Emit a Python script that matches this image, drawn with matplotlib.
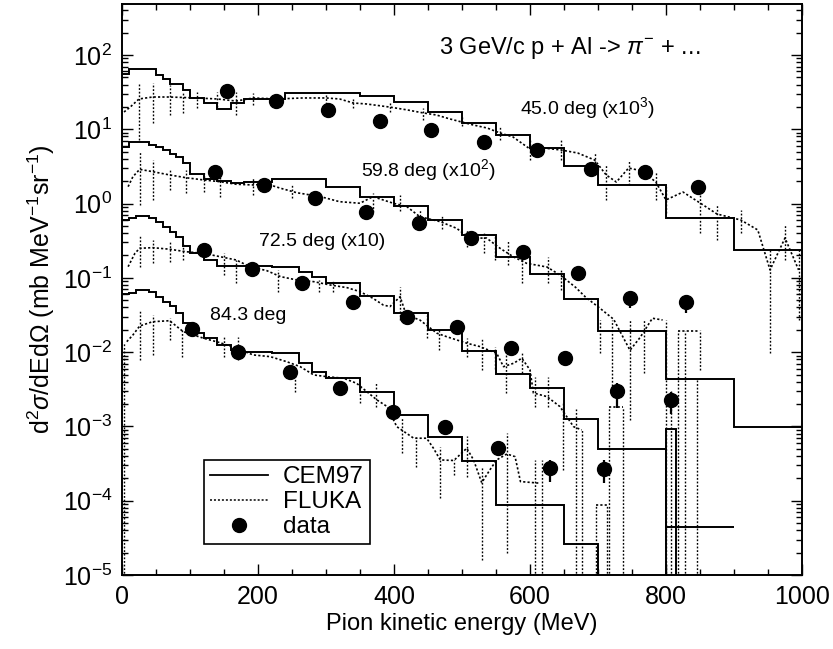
import numpy as np
import matplotlib
matplotlib.use("Agg")
import matplotlib.pyplot as plt
from matplotlib.lines import Line2D
from matplotlib.ticker import MultipleLocator, FixedLocator, LogFormatterMathtext, NullFormatter

plt.rcParams['font.family'] = ['Liberation Sans', 'DejaVu Sans']
plt.rcParams['mathtext.fontset'] = 'custom'
plt.rcParams['mathtext.rm'] = 'Liberation Sans'
plt.rcParams['mathtext.it'] = 'Liberation Sans:italic'
plt.rcParams['mathtext.bf'] = 'Liberation Sans:bold'

# ---------------- CEM97 histograms ----------------
edges = [0, 10, 20, 30, 40, 50, 60, 70, 80, 90, 100, 120, 140, 160, 180, 200, 220, 240,
         260, 280, 300, 350, 400, 450, 500, 550, 600, 650, 700, 800, 900, 1000]
cem1 = [55.5, 64.8, 64.8, 64.8, 64.8, 53.8, 47.5, 40.7, 40.7, 33.8, 26.4, 22.6, 18.8, 22.6,
        25.6, 25.6, 25.6, 30.8, 30.8, 30.8, 30.8, 28.1, 23.3, 17.1, 12.2, 8.38, 5.60, 3.21,
        1.78, 0.640, 0.237]
cem2 = [5.78, 6.75, 6.75, 6.75, 6.15, 5.78, 5.27, 4.65, 4.24, 3.52, 2.50, 2.14, 2.01, 1.89,
        1.95, 1.95, 2.14, 2.14, 2.14, 2.14, 1.69, 1.24, 0.914, 0.601, 0.378, 0.193, 0.113,
        0.052, 0.0195, 0.00436, 0.000985]
edges3 = edges[:-1]
cem3 = [0.601, 0.640, 0.687, 0.687, 0.640, 0.571, 0.489, 0.419, 0.358, 0.269, 0.218, 0.174,
        0.1445, 0.1445, 0.1445, 0.1445, 0.1415, 0.1415, 0.121, 0.104, 0.0861, 0.0571, 0.0340,
        0.0199, 0.0105, 0.00509, 0.00330, 0.00126, 0.000498, 4.44e-5]
edges4 = edges[:-3] + [800, 815, 900]
cem4 = [0.0607, 0.0632, 0.0687, 0.0687, 0.0652, 0.0558, 0.0478, 0.0419, 0.0337, 0.0247,
        0.0181, 0.0155, 0.0125, 0.0107, 0.0102, 0.0102, 0.00976, 0.00976, 0.00715, 0.00546,
        0.00445, 0.00294, 0.00143, 0.000729, 0.000347, 8.78e-5, 8.78e-5, 2.62e-5, 1e-8,
        0.000925, 1e-8]

# ---------------- FLUKA ----------------
fl1_e = [3, 12, 25, 45, 70, 90, 110, 140, 168, 193, 227, 266, 300, 320, 340, 360, 394, 420,
         443, 462, 482, 500, 517, 537, 556, 575, 600, 620, 645, 670, 695, 712, 727, 745, 765,
         785, 800, 825, 850, 875, 910, 935, 953, 975, 995]
fl1_v = [17.1, 19.9, 25.6, 27.2, 27.2, 26.8, 26.4, 25.6, 24.0, 26.4, 25.6, 26.4, 26.4, 25.6,
         22.6, 21.9, 19.9, 18.2, 16.6, 15.6, 13.8, 12.5, 11.4, 10.4, 8.92, 7.88, 5.43, 5.60,
         5.27, 4.80, 3.86, 2.43, 1.95, 3.01, 2.75, 1.95, 1.12, 1.43, 1.02, 0.724, 0.601, 0.441,
         0.128, 0.344, 0.128]
fl1_err_e = [25, 45, 70, 90, 110, 140, 168, 193, 227, 300, 340, 394, 443, 500, 556, 600, 645,
             695, 712, 745, 785, 800, 850, 875, 910, 953, 975, 995]
fl1_err_lo = [7.18, 12.2, 15.6, 16.6, 19.4, 19.9, 15.6, 21.2, 21.9, 21.9, 19.4, 17.1, 13.3,
              11.1, 7.18, 3.86, 3.86, 2.83, 1.12, 1.78, 1.12, 0.747, 0.402, 0.324, 0.402,
              0.00976, 0.174, 0.0271]
fl1_err_hi = [42.0, 42.0, 39.4, 30.8, 31.8, 31.8, 31.8, 30.8, 28.9, 29.9, 26.4, 23.3, 19.4,
              15.1, 11.1, 7.18, 7.18, 4.95, 3.31, 3.86, 2.66, 1.67, 1.31, 0.957, 0.82, 0.237,
              0.515, 0.237]

fl2_e = [9, 16, 26, 45, 70, 94, 120, 144, 168, 193, 213, 233, 257, 292, 320, 350, 369, 399,
         419, 438, 468, 492, 512, 536, 556, 576, 595, 625, 645, 667, 682, 703, 723, 747, 762,
         780, 795]
fl2_v = [1.69, 2.30, 2.89, 2.69, 2.43, 2.23, 2.08, 1.97, 1.82, 1.78, 1.84, 1.61, 1.40, 1.24,
         1.06, 1.01, 1.24, 1.01, 0.908, 0.666, 0.571, 0.465, 0.341, 0.344, 0.250, 0.191,
         0.157, 0.140, 0.108, 0.0746, 0.0547, 0.0389, 0.0277, 0.0106, 0.0158, 0.0286, 0.0271]
fl2b_e = [818, 848]
fl2b_v = [0.0195, 0.0195]
fl2_err_e = [26, 45, 70, 94, 120, 144, 193, 250, 369, 409, 438, 470, 507, 532, 548, 567, 588,
             627, 645, 703, 720, 747, 767, 800, 818, 828, 850]
fl2_err_lo = [0.957, 1.12, 1.52, 1.39, 1.43, 1.23, 1.31, 1.19, 0.771, 0.80, 0.484, 0.455,
              0.26, 0.216, 0.174, 0.149, 0.0854, 0.0854, 0.0687, 0.00976, 0.00282, 0.00122,
              0.00525, 1e-6, 1e-6, 1e-6, 0.00576]
fl2_err_hi = [4.95, 3.86, 2.83, 2.83, 2.58, 2.43, 2.21, 1.84, 1.39, 1.30, 0.82, 0.703, 0.441,
              0.418, 0.378, 0.324, 0.277, 0.191, 0.128, 0.0271, 0.0271, 0.0271, 0.0271,
              0.0271, 0.0195, 0.0195, 0.0199]

fl3_e = [9, 19, 26, 45, 70, 94, 120, 144, 168, 188, 213, 233, 257, 282, 306, 331, 350, 369,
         384, 394, 409, 418, 438, 463, 477, 507, 526, 551, 561, 576, 588, 600, 605, 625, 644,
         664, 676]
fl3_v = [0.1415, 0.214, 0.250, 0.255, 0.243, 0.225, 0.214, 0.193, 0.174, 0.1415, 0.125, 0.104,
         0.0937, 0.0889, 0.0802, 0.0738, 0.0652, 0.0531, 0.0432, 0.0410, 0.0558, 0.0317,
         0.0271, 0.0180, 0.0162, 0.0132, 0.0119, 0.00966, 0.00638, 0.00709, 0.00828, 0.00576,
         0.00282, 0.00252, 0.00185, 0.000994, 0.000897]
fl3b_e = [716, 737]
fl3b_v = [0.00183, 0.00183]
fl3_err_e = [26, 45, 70, 90, 150, 168, 230, 290, 310, 409, 448, 466, 507, 529, 548, 565, 588,
             607, 627, 648, 667, 677, 716, 737, 808, 845]
fl3_err_lo = [0.141, 0.157, 0.164, 0.174, 0.109, 0.0854, 0.0646, 0.0646, 0.0646, 0.0271,
              0.0155, 0.0107, 0.0087, 0.00576, 0.006, 0.00282, 0.0053, 0.00183, 0.00183,
              0.00026, 1e-6, 1e-6, 1e-6, 1e-6, 1e-6, 1e-6]
fl3_err_hi = [0.378, 0.324, 0.304, 0.286, 0.216, 0.174, 0.128, 0.0937, 0.09, 0.0754, 0.032,
              0.0199, 0.0155, 0.0155, 0.0117, 0.0117, 0.0098, 0.00464, 0.00464, 0.00207,
              0.00174, 0.000897, 0.00183, 0.00185, 0.003, 0.0042]

fl4_e = [7, 16, 26, 45, 70, 90, 120, 144, 168, 193, 218, 242, 262, 282, 301, 326, 345, 375,
         390, 404, 429, 448, 458, 468, 488, 507, 517, 529, 541, 551, 566, 578, 586, 615]
fl4_v = [0.01384, 0.0170, 0.0225, 0.0257, 0.0265, 0.0189, 0.01538, 0.01342, 0.01128, 0.00917,
         0.0087, 0.00745, 0.00638, 0.00493, 0.00468, 0.00445, 0.00381, 0.00227, 0.00185,
         0.000994, 0.000694, 0.000694, 0.000509, 0.000354, 0.000348, 0.000509, 0.000354,
         0.000175, 0.00026, 0.000354, 0.000426, 0.000392, 0.000181, 0.000172]
fl4b_e = [697, 713]
fl4b_v = [8.77e-5, 8.77e-5]
fl4_err_e = [3, 26, 45, 70, 88, 150, 170, 254, 350, 373, 412, 432, 468, 488, 507, 529, 566,
             607, 618, 697, 713]
fl4_err_lo = [1e-6, 0.00785, 0.00917, 0.0146, 0.0086, 0.0086, 0.0079, 0.00291, 0.00207,
              0.00183, 0.00044, 0.000285, 0.000109, 0.000222, 0.000209, 1.6e-5, 2.0e-5, 1e-6,
              1e-6, 1e-6, 1e-6]
fl4_err_hi = [0.0138, 0.037, 0.0317, 0.0289, 0.0199, 0.0159, 0.0159, 0.00576, 0.0034,
              0.00397, 0.00134, 0.000722, 0.00053, 0.00035, 0.00075, 0.000285, 0.000818,
              0.000354, 0.000354, 8.77e-5, 8.77e-5]

# ---------------- data ----------------
d1_e = [154, 227, 303, 379, 455, 532, 610, 690, 769, 847]
d1_v = [33, 24.3, 18.2, 13.1, 9.77, 6.8, 5.25, 2.89, 2.69, 1.69]
d2_e = [137, 209, 284, 359, 437, 513, 590, 670, 747, 829]
d2_v = [2.69, 1.78, 1.18, 0.778, 0.543, 0.341, 0.2255, 0.1175, 0.0531, 0.0469]
d3_e = [121, 191, 264, 340, 419, 493, 572, 652, 728, 808]
d3_v = [0.237, 0.1306, 0.0846, 0.0478, 0.0301, 0.0216, 0.01128, 0.00827, 0.00303, 0.00228]
d4_e = [103, 171, 247, 321, 398, 475, 553, 630, 709]
d4_v = [0.0203, 0.01016, 0.00546, 0.00327, 0.00158, 0.000975, 0.000508, 0.000273, 0.000265]
de_e = [747, 829, 728, 808, 630, 709]
de_lo = [0.0398, 0.0334, 0.00177, 0.00147, 0.000179, 0.000174]
de_hi = [0.0632, 0.0558, 0.00385, 0.00291, 0.000354, 0.000354]

labels = ["45.0 deg (x10$^3$)", "59.8 deg (x10$^2$)", "72.5 deg (x10)", "84.3 deg"]
label_pos = [(684, 19.4), (451, 2.83), (294, 0.304), (185, 0.0307)]
title_text = r"3 GeV/c p + Al -> $\pi^{-}$ + ..."
title_pos = (659, 124)
y_major = [1e-5, 1e-4, 1e-3, 1e-2, 1e-1, 1e0, 1e1, 1e2]

fig = plt.figure(figsize=(8.33, 6.49), dpi=100)
ax = fig.add_axes([122/833, 74/649, 680/833, 571/649])
ax.set_yscale('log')
ax.set_xlim(0, 1000)
ax.set_ylim(1e-5, 486)

dot = (0, (1.3, 1.3))
for e, v in [(edges, cem1), (edges, cem2), (edges3, cem3), (edges4, cem4)]:
    ax.stairs(v, e, baseline=None, color='black', lw=1.4)

for fe, fv, ee, lo, hi in [(fl1_e, fl1_v, fl1_err_e, fl1_err_lo, fl1_err_hi),
                           (fl2_e, fl2_v, fl2_err_e, fl2_err_lo, fl2_err_hi),
                           (fl3_e, fl3_v, fl3_err_e, fl3_err_lo, fl3_err_hi),
                           (fl4_e, fl4_v, fl4_err_e, fl4_err_lo, fl4_err_hi)]:
    ax.plot(fe, fv, color='black', lw=1.2, ls=dot)
    ax.vlines(ee, lo, hi, color='black', lw=1.0, linestyles=[dot])
for be, bv in [(fl2b_e, fl2b_v), (fl3b_e, fl3b_v), (fl4b_e, fl4b_v)]:
    ax.plot(be, bv, color='black', lw=1.2, ls=dot)

ax.vlines(de_e, de_lo, de_hi, color='black', lw=1.6)
for de, dv in [(d1_e, d1_v), (d2_e, d2_v), (d3_e, d3_v), (d4_e, d4_v)]:
    ax.plot(de, dv, 'o', color='black', ms=10, ls='none')

for (lx, ly), t in zip(label_pos, labels):
    ax.text(lx, ly, t, fontsize=14, ha='center', va='center')
ax.text(title_pos[0], title_pos[1], title_text, fontsize=17, ha='center', va='center')

ax.xaxis.set_major_locator(MultipleLocator(200))
ax.xaxis.set_minor_locator(MultipleLocator(50))
ax.yaxis.set_major_locator(FixedLocator(y_major))
y_minor = [m * d for d in y_major for m in range(2, 10) if m * d < 486]
ax.yaxis.set_minor_locator(FixedLocator(y_minor))
ax.yaxis.set_major_formatter(LogFormatterMathtext())
ax.yaxis.set_minor_formatter(NullFormatter())
ax.tick_params(which='both', direction='in', top=True, right=True, width=1.0)
ax.tick_params(which='major', length=8, labelsize=18, pad=7)
ax.tick_params(which='minor', length=4)
for s in ax.spines.values():
    s.set_linewidth(1.4)

ax.set_xlabel("Pion kinetic energy (MeV)", fontsize=17, labelpad=3)
ax.set_ylabel(r"d$^2\sigma$/dEd$\Omega$ (mb MeV$^{-1}$sr$^{-1}$)", fontsize=18, labelpad=4)

handles = [Line2D([], [], color='black', lw=1.3),
           Line2D([], [], color='black', lw=1.1, ls=dot),
           Line2D([], [], color='black', marker='o', ms=10, ls='none')]
leg = ax.legend(handles, ["CEM97", "FLUKA", "data"], loc='lower left',
                bbox_to_anchor=(0.12, 0.054), borderaxespad=0, fontsize=17.5,
                handlelength=2.4, handletextpad=0.6, labelspacing=0.12,
                fancybox=False, framealpha=1, edgecolor='black', borderpad=0.25)
leg.get_frame().set_linewidth(1.2)

fig.savefig("out.png", dpi=100)
